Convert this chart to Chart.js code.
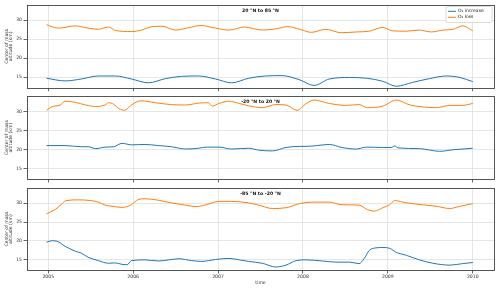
<!DOCTYPE html>
<html>
<head>
<meta charset="utf-8">
<script src="https://cdn.jsdelivr.net/npm/chart.js@4.4.1/dist/chart.umd.min.js"></script>
<style>
  body { margin:0; background:#fff; width:500px; height:290px; overflow:hidden; position:relative; }
  .panel { position:absolute; left:0; width:500px; }
</style>
</head>
<body>
<div class="panel" style="top:0;height:92px"><canvas id="p1"></canvas></div>
<div class="panel" style="top:92px;height:92px"><canvas id="p2"></canvas></div>
<div class="panel" style="top:184px;height:106px"><canvas id="p3"></canvas></div>
<script>
// panel titles and legend labels
const regions = ['20 °N to 85 °N', '-20 °N to 20 °N', '-85 °N to -20 °N'];
const seriesNames = ['O₃ increase', 'O₃ loss'];
const yearTicks = [2005, 2006, 2007, 2008, 2009, 2010];
const altTicks = [15, 20, 25, 30];

// [decimal year, km]
const nhInc = [[2004.98,14.7],[2005.2,14.0],[2005.39,14.5],[2005.59,15.3],[2005.79,15.3],[2005.98,14.5],[2006.18,13.5],[2006.38,14.6],[2006.57,15.2],[2006.77,15.3],[2006.97,14.5],[2007.16,13.5],[2007.36,14.7],[2007.56,15.3],[2007.75,15.4],[2007.96,14.3],[2008.13,12.8],[2008.31,14.5],[2008.55,14.9],[2008.75,14.7],[2008.94,13.9],[2009.1,12.6],[2009.29,13.6],[2009.49,14.6],[2009.69,15.3],[2009.85,14.9],[2010.0,13.8]];
const nhLoss = [[2004.98,28.8],[2005.12,27.9],[2005.32,28.5],[2005.47,27.9],[2005.59,27.6],[2005.71,28.2],[2005.79,27.3],[2005.98,27.0],[2006.1,27.4],[2006.2,28.2],[2006.34,28.4],[2006.5,27.4],[2006.65,28.0],[2006.8,28.6],[2006.97,27.9],[2007.13,27.4],[2007.31,28.2],[2007.52,27.4],[2007.68,27.7],[2007.82,28.3],[2007.96,27.6],[2008.1,26.8],[2008.27,27.6],[2008.45,26.7],[2008.63,26.9],[2008.78,27.1],[2008.94,28.1],[2009.05,27.2],[2009.22,27.1],[2009.37,27.4],[2009.51,26.9],[2009.65,27.4],[2009.77,27.6],[2009.88,28.5],[2010.0,27.2]];
const eqInc = [[2004.98,21.0],[2005.2,21.0],[2005.39,20.7],[2005.47,20.7],[2005.56,20.2],[2005.67,20.6],[2005.77,20.7],[2005.87,21.6],[2005.98,21.2],[2006.14,21.3],[2006.3,21.0],[2006.45,20.7],[2006.62,20.1],[2006.77,20.3],[2006.86,20.6],[2007.01,20.6],[2007.16,20.1],[2007.36,20.3],[2007.48,19.8],[2007.64,19.6],[2007.8,20.5],[2007.96,20.8],[2008.05,20.8],[2008.16,21.0],[2008.31,21.3],[2008.46,20.5],[2008.63,20.1],[2008.75,20.6],[2008.94,20.5],[2009.04,20.5],[2009.08,20.9],[2009.12,20.4],[2009.37,20.2],[2009.61,19.5],[2009.77,19.9],[2010.0,20.3]];
const eqLoss = [[2004.98,30.3],[2005.04,31.2],[2005.14,31.7],[2005.2,32.7],[2005.32,32.4],[2005.44,31.7],[2005.56,31.3],[2005.67,31.7],[2005.71,32.3],[2005.77,31.9],[2005.83,30.8],[2005.9,30.3],[2005.98,31.7],[2006.09,32.8],[2006.26,32.3],[2006.45,31.8],[2006.62,31.7],[2006.77,32.2],[2006.89,32.3],[2006.93,31.4],[2007.01,32.1],[2007.13,32.7],[2007.25,32.1],[2007.36,31.5],[2007.52,31.0],[2007.68,31.8],[2007.8,31.7],[2007.93,30.3],[2008.04,32.1],[2008.13,33.0],[2008.31,32.1],[2008.51,31.6],[2008.66,31.8],[2008.76,31.0],[2008.94,31.4],[2009.1,33.0],[2009.26,31.7],[2009.41,31.2],[2009.57,31.0],[2009.73,31.6],[2009.88,31.6],[2010.0,32.1]];
const shInc = [[2004.98,19.6],[2005.04,20.0],[2005.1,19.9],[2005.2,18.5],[2005.32,17.2],[2005.39,16.7],[2005.47,15.6],[2005.59,14.7],[2005.71,14.0],[2005.79,14.1],[2005.87,13.7],[2005.93,13.6],[2005.98,14.7],[2006.14,14.9],[2006.3,14.6],[2006.42,14.9],[2006.54,15.2],[2006.69,14.7],[2006.81,14.5],[2006.97,15.0],[2007.13,15.3],[2007.25,14.9],[2007.36,14.5],[2007.52,14.0],[2007.68,13.0],[2007.8,13.5],[2007.92,14.7],[2008.04,14.9],[2008.23,14.6],[2008.39,14.3],[2008.55,14.3],[2008.66,13.9],[2008.72,15.2],[2008.78,17.4],[2008.86,18.1],[2008.94,18.2],[2009.02,18.0],[2009.1,16.9],[2009.22,16.1],[2009.37,14.9],[2009.53,14.0],[2009.73,13.5],[2009.88,13.9],[2010.0,14.2]];
const shLoss = [[2004.98,27.2],[2005.08,28.3],[2005.15,29.6],[2005.21,30.7],[2005.35,30.9],[2005.51,30.7],[2005.59,30.3],[2005.67,29.5],[2005.75,29.2],[2005.87,28.9],[2005.98,29.6],[2006.06,31.0],[2006.14,31.2],[2006.3,30.8],[2006.45,30.1],[2006.62,29.5],[2006.74,29.1],[2006.86,29.6],[2007.01,30.5],[2007.16,30.5],[2007.36,30.1],[2007.48,29.5],[2007.64,28.6],[2007.8,28.8],[2007.96,29.9],[2008.11,30.3],[2008.31,30.3],[2008.46,29.6],[2008.66,29.5],[2008.76,28.3],[2008.84,27.9],[2008.94,28.8],[2009.02,29.6],[2009.08,30.7],[2009.22,30.1],[2009.41,29.6],[2009.57,29.2],[2009.73,28.6],[2009.85,29.2],[2010.0,29.9]];

const BLUE = '#1f77b4', ORANGE = '#ff7f0e';
const FONT = '"DejaVu Sans", sans-serif';

// box around the plot, region title, legend
const framePlugin = {
  id: 'frame',
  afterDraw(chart, args, opts) {
    const { ctx, chartArea: a } = chart;
    ctx.save();
    ctx.strokeStyle = '#444';
    ctx.lineWidth = 0.9;
    ctx.strokeRect(Math.round(a.left) + 0.5, Math.round(a.top) + 0.5, Math.round(a.right - a.left), Math.round(a.bottom - a.top));
    ctx.fillStyle = '#111';
    ctx.font = 'bold 4.6px ' + FONT;
    ctx.textAlign = 'center';
    ctx.textBaseline = 'middle';
    ctx.fillText(opts.title, (a.left + a.right) / 2, a.top + 6);
    if (opts.legend) {
      const x0 = a.right - 48, y0 = a.top + 1.5, w = 46, h = 16;
      ctx.fillStyle = 'rgba(255,255,255,0.85)';
      ctx.strokeStyle = '#d0d0d0';
      ctx.lineWidth = 0.8;
      ctx.beginPath();
      ctx.roundRect(x0, y0, w, h, 1.5);
      ctx.fill(); ctx.stroke();
      ctx.font = '4.5px ' + FONT;
      ctx.textAlign = 'left';
      [BLUE, ORANGE].forEach((c, i) => {
        const y = y0 + 4.8 + i * 6;
        ctx.strokeStyle = c; ctx.lineWidth = 1;
        ctx.beginPath(); ctx.moveTo(x0 + 2, y); ctx.lineTo(x0 + 10, y); ctx.stroke();
        ctx.fillStyle = '#222';
        ctx.fillText(seriesNames[i], x0 + 12, y);
      });
    }
    ctx.restore();
  }
};

function toXY(arr) { return arr.map(p => ({ x: p[0], y: p[1] })); }

function makePanel(id, inc, loss, title, opt) {
  return new Chart(document.getElementById(id), {
    type: 'line',
    data: {
      datasets: [
        { label: seriesNames[0], data: toXY(inc), borderColor: BLUE },
        { label: seriesNames[1], data: toXY(loss), borderColor: ORANGE }
      ]
    },
    options: {
      responsive: true,
      maintainAspectRatio: false,
      animation: false,
      layout: { padding: { left: 0, right: 6, top: opt.top, bottom: 0 } },
      elements: {
        point: { radius: 0 },
        line: { borderWidth: 1, cubicInterpolationMode: 'monotone' }
      },
      plugins: {
        legend: { display: false },
        tooltip: { enabled: false },
        frame: { title: title, legend: opt.legend }
      },
      scales: {
        x: {
          type: 'linear',
          min: 2004.75, max: 2010.25,
          afterBuildTicks: s => { s.ticks = yearTicks.map(v => ({ value: v })); },
          afterFit: s => { s.height = opt.xh; },
          grid: { color: '#e0e0e0', lineWidth: 0.8, tickLength: 3.5, tickColor: '#444' },
          border: { display: false },
          ticks: { display: opt.xlabels, font: { size: 4.6, family: FONT }, color: '#333', padding: 1, maxRotation: 0,
                   callback: v => String(v) },
          title: { display: opt.xlabels, text: 'time', font: { size: 4.6, family: FONT }, color: '#333', padding: { top: 0, bottom: 4 } }
        },
        y: {
          min: 12.2, max: 34.0,
          afterBuildTicks: s => { s.ticks = altTicks.map(v => ({ value: v })); },
          afterFit: s => { s.width = 27; },
          grid: { color: '#e0e0e0', lineWidth: 0.8, tickLength: 3.5, tickColor: '#444' },
          border: { display: false },
          ticks: { font: { size: 4.6, family: FONT }, color: '#333', padding: 1.5 },
          title: { display: true, text: ['Center of mass', 'altitude (km)'], font: { size: 4.6, family: FONT, lineHeight: 1.0 },
                   color: '#333', padding: { top: 4, bottom: 0 } }
        }
      }
    },
    plugins: [framePlugin]
  });
}

makePanel('p1', nhInc, nhLoss, regions[0], { top: 5, xh: 4, xlabels: false, legend: true });
makePanel('p2', eqInc, eqLoss, regions[1], { top: 4, xh: 5, xlabels: false, legend: false });
makePanel('p3', shInc, shLoss, regions[2], { top: 3, xh: 20, xlabels: true, legend: false });
</script>
</body>
</html>
